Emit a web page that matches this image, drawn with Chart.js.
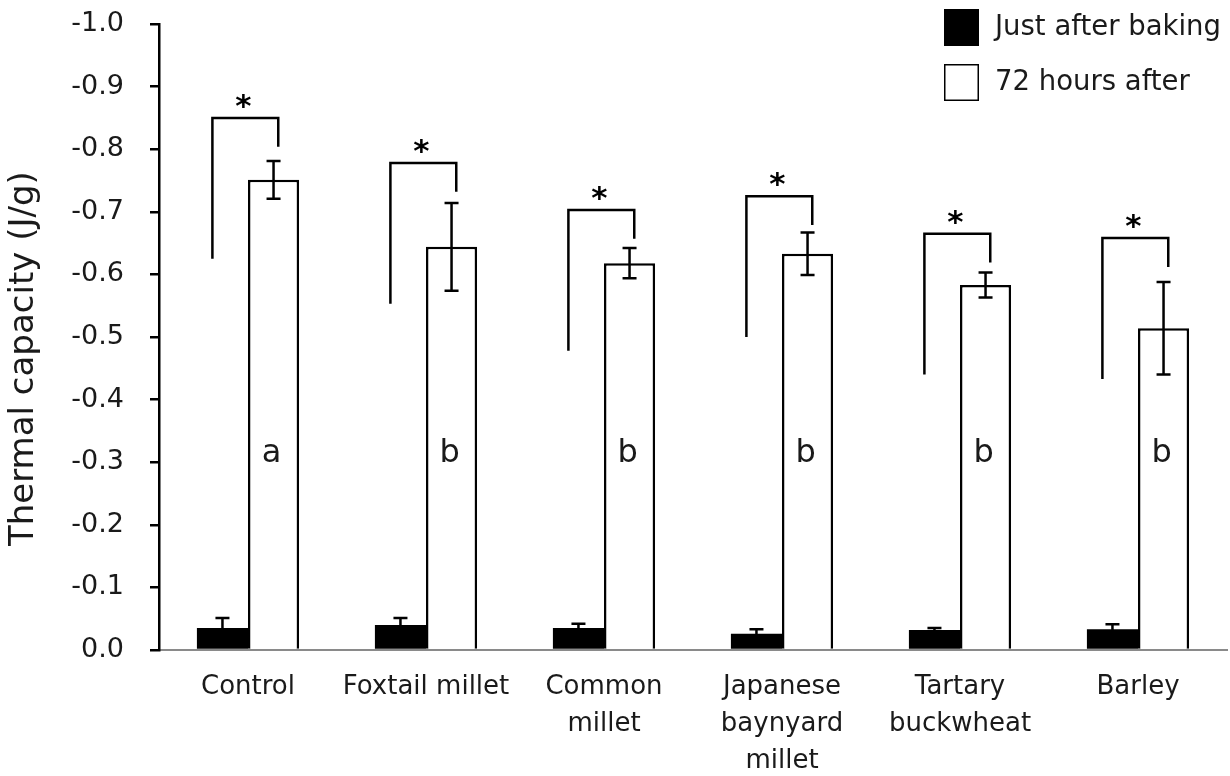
<!DOCTYPE html>
<html>
<head>
<meta charset="utf-8">
<script src="https://cdn.jsdelivr.net/npm/chart.js@4.4.1/dist/chart.umd.min.js"></script>
<style>
  body { margin: 0; background: #fff; }
</style>
</head>
<body>
<canvas id="thermal_chart" width="1230" height="776"></canvas>
<script>
// thermal capacity of bread, just after baking vs. 72 hours later
const categories = [['Control'], ['Foxtail millet'], ['Common', 'millet'], ['Japanese', 'baynyard', 'millet'], ['Tartary', 'buckwheat'], ['Barley']];
const seriesNames = ['Just after baking', '72 hours after'];
const afterBaking = [-0.035, -0.040, -0.035, -0.026, -0.032, -0.033];
const afterBakingErr = [0.016, 0.011, 0.007, 0.007, 0.003, 0.008];
const after72h = [-0.751, -0.644, -0.618, -0.633, -0.583, -0.514];
const after72hErr = [0.030, 0.070, 0.024, 0.034, 0.020, 0.074];
const groupLetters = ['a', 'b', 'b', 'b', 'b', 'b'];
const yTicks = [0, -0.1, -0.2, -0.3, -0.4, -0.5, -0.6, -0.7, -0.8, -0.9, -1.0];

// significance brackets (*) between the two bars of each group
const bracketTop = [-0.850, -0.778, -0.703, -0.725, -0.665, -0.658];

const FONT = 'DejaVu Sans';
const TXT = '#1a1a1a';

const annotate = {
  id: 'annotate',
  afterDatasetsDraw(chart) {
    const ctx = chart.ctx;
    const xs = chart.scales.x, ys = chart.scales.y;
    const step = xs.width / categories.length;
    ctx.save();
    ctx.strokeStyle = '#000';
    ctx.lineWidth = 2.5;
    ctx.lineCap = 'butt';

    // error bars
    [[0, afterBakingErr], [1, after72hErr]].forEach(function (pair) {
      const di = pair[0], errs = pair[1];
      const meta = chart.getDatasetMeta(di);
      meta.data.forEach(function (bar, i) {
        const v = chart.data.datasets[di].data[i];
        const yHi = ys.getPixelForValue(v - errs[i]);
        const yLo = ys.getPixelForValue(v + errs[i]);
        ctx.beginPath();
        ctx.moveTo(bar.x, yHi); ctx.lineTo(bar.x, yLo);
        ctx.moveTo(bar.x - 7, yHi); ctx.lineTo(bar.x + 7, yHi);
        ctx.moveTo(bar.x - 7, yLo); ctx.lineTo(bar.x + 7, yLo);
        ctx.stroke();
      });
    });

    // brackets + stars
    ctx.lineJoin = 'miter';
    bracketTop.forEach(function (top, i) {
      const cx = xs.getPixelForValue(i);
      const xl = cx - 0.2 * step, xr = cx + 0.17 * step;
      const yt = ys.getPixelForValue(top);
      ctx.beginPath();
      ctx.moveTo(xl, ys.getPixelForValue(top + 0.225));
      ctx.lineTo(xl, yt);
      ctx.lineTo(xr, yt);
      ctx.lineTo(xr, ys.getPixelForValue(top + 0.046));
      ctx.stroke();
      ctx.fillStyle = '#000';
      ctx.font = 'bold 31px "' + FONT + '"';
      ctx.textAlign = 'center';
      ctx.textBaseline = 'alphabetic';
      ctx.fillText('*', (xl + xr) / 2 - 2, yt - 2);
    });

    // letters inside the 72 h bars
    const meta72 = chart.getDatasetMeta(1);
    ctx.fillStyle = TXT;
    ctx.font = '32px "' + FONT + '"';
    ctx.textAlign = 'center';
    ctx.textBaseline = 'alphabetic';
    groupLetters.forEach(function (t, i) {
      ctx.fillText(t, meta72.data[i].x - 2, ys.getPixelForValue(-0.3));
    });
    ctx.restore();
  },
  afterDraw(chart) {
    // legend, top right
    const ctx = chart.ctx;
    const x0 = chart.chartArea.right - 283;
    ctx.save();
    ctx.font = '27.5px "' + FONT + '"';
    ctx.textAlign = 'left';
    ctx.textBaseline = 'middle';
    chart.data.datasets.forEach(function (ds, i) {
      const top = i === 0 ? 9 : 64;
      ctx.fillStyle = ds.backgroundColor;
      ctx.fillRect(x0, top, 35, 37);
      ctx.strokeStyle = '#000';
      ctx.lineWidth = 1.5;
      ctx.strokeRect(x0 + 0.75, top + 0.75, 33.5, 35.5);
      ctx.fillStyle = TXT;
      ctx.fillText(ds.label, x0 + 51, top + 19);
    });
    ctx.restore();
  }
};

new Chart(document.getElementById('thermal_chart'), {
  type: 'bar',
  data: {
    labels: categories,
    datasets: [{
      label: seriesNames[0],
      data: afterBaking,
      backgroundColor: '#000',
      borderWidth: 0
    },
    {
      label: seriesNames[1],
      data: after72h,
      backgroundColor: '#fff',
      borderColor: '#000',
      borderWidth: 2.5
    }]
  },
  options: {
    responsive: false,
    animation: false,
    categoryPercentage: 0.574,
    barPercentage: 1.0,
    layout: { padding: { top: 24, right: 3, left: 0, bottom: 0 } },
    plugins: {
      legend: { display: false },
      tooltip: { enabled: false }
    },
    scales: {
      x: {
        grid: { display: false, drawTicks: false },
        border: { color: '#8a8a8a', width: 2 },
        ticks: {
          font: { family: FONT, size: 26, lineHeight: 1.42 },
          color: TXT,
          padding: 19,
          autoSkip: false,
          maxRotation: 0
        },
        afterFit: function (s) { s.height = 126; }
      },
      y: {
        reverse: true,
        min: -1,
        max: 0,
        afterBuildTicks: function (s) { s.ticks = yTicks.map(function (v) { return { value: v }; }); },
        ticks: {
          callback: function (v) { return v.toFixed(1); },
          font: { family: FONT, size: 27 },
          color: TXT,
          padding: 26
        },
        grid: { drawOnChartArea: false, drawTicks: true, tickLength: 9, color: '#000', lineWidth: 2.5 },
        border: { color: '#000', width: 2.5 },
        title: {
          display: true,
          text: 'Thermal capacity (J/g)    ',
          font: { family: FONT, size: 34 },
          color: TXT,
          padding: { top: 4, bottom: 0 }
        },
        afterFit: function (s) {
          s.width = 159;
          // tick padding would otherwise push the plot top down
          s.paddingTop = 0;
          s.paddingBottom = 0;
        }
      }
    }
  },
  plugins: [annotate]
});
</script>
</body>
</html>
